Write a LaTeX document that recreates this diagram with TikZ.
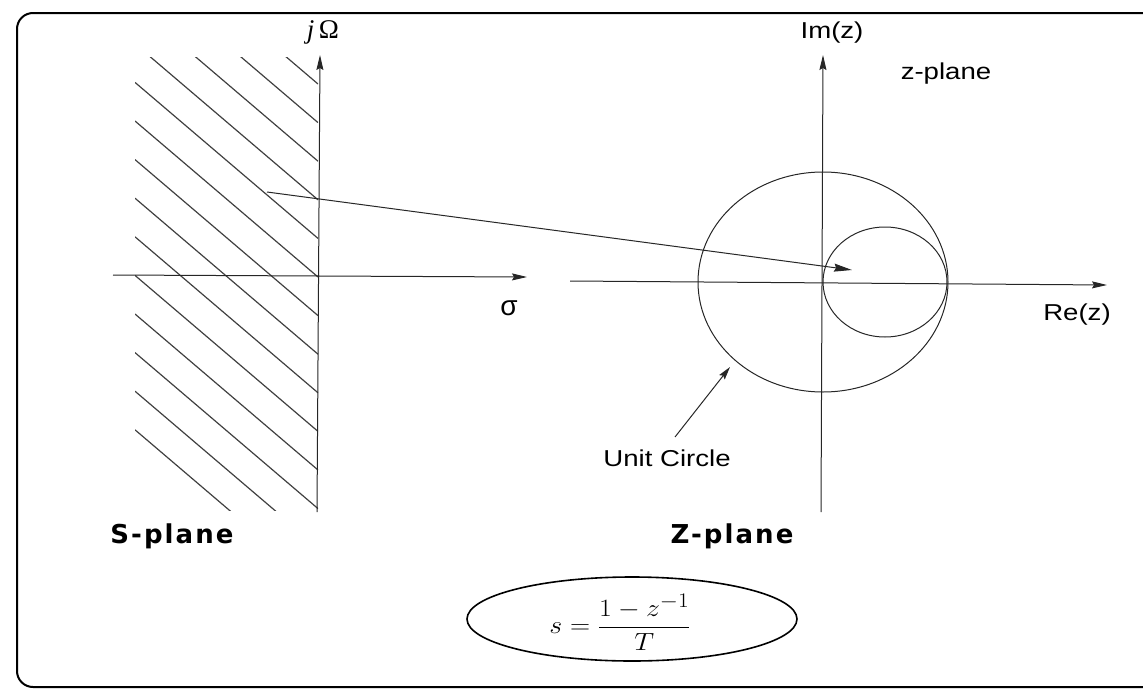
\documentclass[tikz,border=0pt]{standalone}
\usepackage{fontspec}
\usepackage{graphicx}
\usetikzlibrary{arrows.meta,shapes.geometric}
\setmainfont{Liberation Sans}
\newfontfamily\labfont[FakeStretch=1.2]{Liberation Sans}
\newfontfamily\boldlab[LetterSpace=8]{DejaVu Sans}
\newfontfamily\serifital{Liberation Serif}
\begin{document}
\begin{tikzpicture}[x=1pt,y=-1pt,
  ln/.style={line width=1pt, draw=black!85},
  axis/.style={ln, -{Stealth[length=15pt,width=7pt,inset=2pt]}},
  hatchline/.style={line width=1.2pt, draw=black!75},
  lab/.style={font=\labfont\fontsize{23}{26}\selectfont, inner sep=0pt, anchor=base},
  plane/.style={font=\boldlab\bfseries\fontsize{26}{30}\selectfont, inner sep=0pt, anchor=base},
]
\useasboundingbox (0,0) rectangle (1143,688);
\clip (0,0) rectangle (1143,688);

% frame
\draw[line width=2pt, rounded corners=16pt] (1160,13) -- (17,13) -- (17,687) -- (1160,687);

% ---------- S-plane ----------
\begin{scope}
  \clip (135,57) rectangle (318,510);
  \foreach \k in {-5,...,8}
    \draw[hatchline] (135,{277+38.6*\k-156}) -- (318,{277+38.6*\k});
\end{scope}
\coordinate (sb) at (317,512);
\coordinate (st) at (320,55);
\coordinate (sl) at (113,275);
\coordinate (sr) at (527,277);
\draw[axis] (sb) -- (st);
\draw[axis] (sl) -- (sr);
\node[font=\serifital\fontsize{27}{30}\selectfont, inner sep=0pt, anchor=base] (jo) at (323,38) {\textit{j}\,Ω};
\node[font=\fontsize{28}{30}\selectfont, inner sep=0pt, anchor=base] (sig) at (509,315) {σ};
\node[plane] (splane) at (172,543) {S-plane};

% ---------- Z-plane ----------
\coordinate (zb) at (821,512);
\coordinate (zt) at (823,55);
\coordinate (zl) at (570,281);
\coordinate (zr) at (1107,285);
\draw[axis] (zb) -- (zt);
\draw[axis] (zl) -- (zr);
\coordinate (zo) at (823,282);
\coordinate (ic) at (885,282);
\draw[ln] (zo) ellipse [x radius=125, y radius=110];
\draw[ln] (ic) ellipse [x radius=62, y radius=55];
\node[lab] (im) at (832,38) {Im(z)};
\node[lab] (zpl) at (946,79) {z-plane};
\node[lab] (re) at (1077,320) {Re(z)};
\node[lab] (uc) at (667,466) {Unit Circle};
\coordinate (uctail) at (675,437);
\coordinate (uctip) at (730,367);
\draw[ln, -{Stealth[length=13pt,width=7pt,inset=2pt]}] (uctail) -- (uctip);
\node[plane] (zplane) at (732,543) {Z-plane};

% mapping arrow
\coordinate (mapfrom) at (267,192);
\coordinate (mapto) at (852,270);
\draw[ln, -{Stealth[length=18pt,width=8pt,inset=2pt]}] (mapfrom) -- (mapto);

% formula
\node[inner sep=0pt, font=\fontsize{32}{38}\selectfont] (formula) at (620,622)
  {\scalebox{1.12}[1]{$\displaystyle s=\frac{1-z^{-1}}{T}$}};
\coordinate (fc) at (632,619);
\draw[line width=1.6pt] (fc) ellipse [x radius=165, y radius=42];
\end{tikzpicture}
\end{document}
